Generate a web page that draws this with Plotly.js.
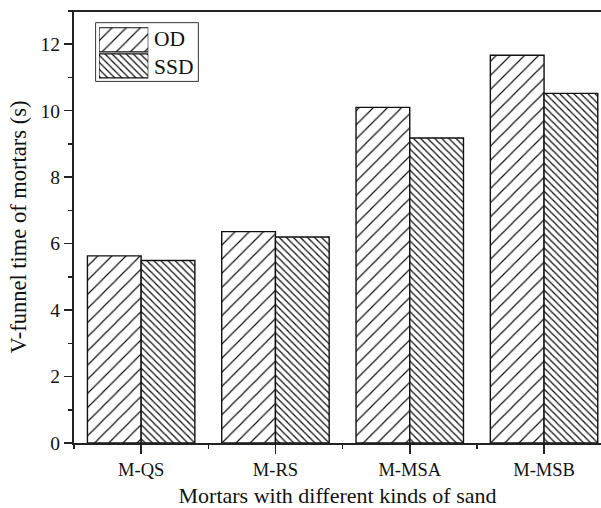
<!DOCTYPE html>
<html>
<head>
<meta charset="utf-8">
<script src="https://cdn.plot.ly/plotly-3.0.1.min.js"></script>
<style>
  html, body { margin: 0; padding: 0; background: #fff; }
  #chart { width: 601px; height: 508px; }
</style>
</head>
<body>
<div id="chart"></div>
<script>
// V-funnel flow time of mortars made with different sands
const categories = ['M-QS', 'M-RS', 'M-MSA', 'M-MSB'];
const seriesNames = ['OD', 'SSD'];
const odValues = [5.63, 6.36, 10.1, 11.67];
const ssdValues = [5.49, 6.2, 9.18, 10.52];
const yTickValues = [0, 2, 4, 6, 8, 10, 12];

const FONT = 'Liberation Serif, Times New Roman, serif';
const INK = '#111';
const AXIS = '#222';

const odPattern = { shape: '/', size: 10, solidity: 0.12, fgcolor: INK, bgcolor: '#fff', fillmode: 'replace' };
const ssdPattern = { shape: '\\', size: 5, solidity: 0.25, fgcolor: INK, bgcolor: '#fff', fillmode: 'replace' };

const xIdx = categories.map((_, i) => i);

const traces = [
  {
    type: 'bar', name: seriesNames[0], x: xIdx, y: odValues,
    marker: { color: '#fff', pattern: odPattern, line: { color: INK, width: 1.4 } },
    showlegend: false, hoverinfo: 'x+y'
  },
  {
    type: 'bar', name: seriesNames[1], x: xIdx, y: ssdValues,
    marker: { color: '#fff', pattern: ssdPattern, line: { color: INK, width: 1.4 } },
    showlegend: false, hoverinfo: 'x+y'
  },
  // legend keys: one full-width hatched swatch per series in a small inset axis
  {
    type: 'bar', orientation: 'h', x: [1], y: [1], width: 0.92,
    xaxis: 'x2', yaxis: 'y2',
    marker: { color: '#fff', pattern: odPattern, line: { color: INK, width: 1.2 } },
    showlegend: false, hoverinfo: 'skip'
  },
  {
    type: 'bar', orientation: 'h', x: [1], y: [0], width: 0.92,
    xaxis: 'x2', yaxis: 'y2',
    marker: { color: '#fff', pattern: ssdPattern, line: { color: INK, width: 1.2 } },
    showlegend: false, hoverinfo: 'skip'
  }
];

const layout = {
  width: 601, height: 508,
  margin: { l: 74, r: 0, t: 11, b: 65, pad: 0 },
  paper_bgcolor: '#fff', plot_bgcolor: '#fff',
  font: { family: FONT, color: INK },
  barmode: 'group', bargap: 0.2, bargroupgap: 0,
  showlegend: false,
  xaxis: {
    range: [-0.5, 3.424],
    tickvals: xIdx, ticktext: categories,
    ticks: 'outside', ticklen: 9, tickwidth: 1.6, tickcolor: AXIS,
    minor: { tick0: 0.5, dtick: 1, ticks: 'outside', ticklen: 4, tickwidth: 1.6, tickcolor: AXIS },
    showline: true, linecolor: AXIS, linewidth: 2,
    showgrid: false, zeroline: false,
    tickfont: { family: FONT, size: 18.5, color: INK },
    title: { text: 'Mortars with different kinds of sand', font: { family: FONT, size: 22, color: INK }, standoff: 13 }
  },
  yaxis: {
    range: [0, 13],
    tickvals: yTickValues,
    ticks: 'outside', ticklen: 8, tickwidth: 1.6, tickcolor: AXIS,
    minor: { tick0: 1, dtick: 2, ticks: 'outside', ticklen: 4, tickwidth: 1.6, tickcolor: AXIS },
    showline: true, linecolor: AXIS, linewidth: 2,
    showgrid: false, zeroline: false,
    tickfont: { family: FONT, size: 19.5, color: INK },
    title: { text: 'V-funnel time of mortars (s)', font: { family: FONT, size: 22.5, color: INK }, standoff: 8 }
  },
  xaxis2: {
    domain: [0.0474, 0.141], range: [0, 1], anchor: 'y2',
    visible: false, fixedrange: true
  },
  yaxis2: {
    domain: [0.8426, 0.9637], range: [-0.5, 1.5], anchor: 'x2',
    visible: false, fixedrange: true
  },
  shapes: [
    // frame line along the top of the plot
    { type: 'line', xref: 'paper', yref: 'paper', x0: -0.008, x1: 1, y0: 1, y1: 1,
      line: { color: AXIS, width: 2 } },
    // legend box
    { type: 'rect', xref: 'paper', yref: 'paper', x0: 0.041, x1: 0.236, y0: 0.837, y1: 0.973,
      line: { color: '#333', width: 1 }, fillcolor: 'rgba(0,0,0,0)' }
  ],
  annotations: [
    { xref: 'paper', yref: 'paper', x: 0.148, y: 0.935, xanchor: 'left', yanchor: 'middle',
      text: seriesNames[0], showarrow: false, font: { family: FONT, size: 21.5, color: INK } },
    { xref: 'paper', yref: 'paper', x: 0.148, y: 0.870, xanchor: 'left', yanchor: 'middle',
      text: seriesNames[1], showarrow: false, font: { family: FONT, size: 21.5, color: INK } }
  ]
};

Plotly.newPlot('chart', traces, layout, { staticPlot: true, displayModeBar: false });
</script>
</body>
</html>
